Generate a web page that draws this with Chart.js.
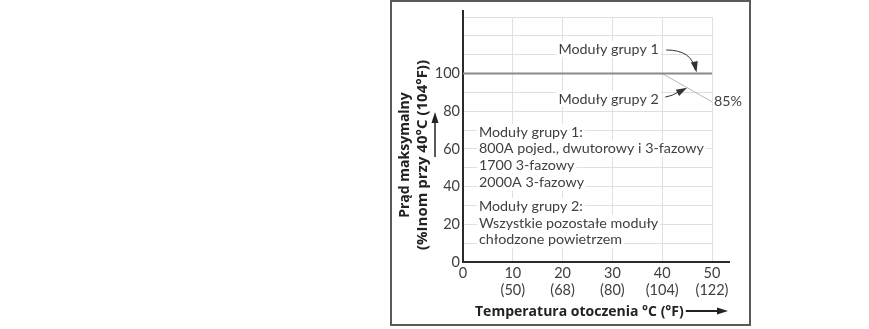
<!DOCTYPE html>
<html>
<head>
<meta charset="utf-8">
<script src="https://cdn.jsdelivr.net/npm/chart.js@4.4.1/dist/chart.umd.min.js"></script>
<style>
  html, body { margin: 0; padding: 0; background: #fff; }
  #wrap { width: 869px; height: 329px; }
</style>
</head>
<body>
<div id="wrap"><canvas id="derating"></canvas></div>
<script>
// temperature ticks (deg C) and their Fahrenheit labels
const tempC = [0, 10, 20, 30, 40, 50];
const tempF = ['', '(50)', '(68)', '(80)', '(104)', '(122)'];
const currentTicks = [0, 20, 40, 60, 80, 100];

// group 1: flat 100% up to 50 C
const group1Temp = [0, 50];
const group1Current = [100, 100];
// group 2: 100% up to 40 C, then down to 85% at 50 C
const group2Temp = [40, 50];
const group2Current = [100, 85];

const noteLines = [
  'Moduły grupy 1:',
  '800A pojed., dwutorowy i 3-fazowy',
  '1700 3-fazowy',
  '2000A 3-fazowy',
  'Moduły grupy 2:',
  'Wszystkie pozostałe moduły',
  'chłodzone powietrzem'
];

const FONT = 'Lato, "Open Sans", sans-serif';
const TITLE_FONT = 'bold 14px "Open Sans", Lato, sans-serif';
const TXT = '#404040';

var toPoints = function(xs, ys) {
  return xs.map(function(x, i) { return { x: x, y: ys[i] }; });
};

var arrowHead = function(ctx, fromX, fromY, tipX, tipY) {
  var a = Math.atan2(tipY - fromY, tipX - fromX);
  var len = 11, half = 3.5;
  ctx.beginPath();
  ctx.moveTo(tipX, tipY);
  ctx.lineTo(tipX - len * Math.cos(a) + half * Math.sin(a), tipY - len * Math.sin(a) - half * Math.cos(a));
  ctx.lineTo(tipX - len * Math.cos(a) - half * Math.sin(a), tipY - len * Math.sin(a) + half * Math.cos(a));
  ctx.closePath();
  ctx.fill();
};

var boxedText = function(ctx, text, x, y, align) {
  var w = ctx.measureText(text).width;
  var left = align === 'right' ? x - w : x;
  ctx.fillStyle = '#fff';
  ctx.fillRect(left - 2, y - 8, w + 4, 16);
  ctx.fillStyle = TXT;
  ctx.textAlign = align;
  ctx.fillText(text, x, y);
};

const decorations = {
  id: 'decorations',
  afterDraw: function(chart) {
    var ctx = chart.ctx;
    var ca = chart.chartArea;
    var xs = chart.scales.x, ys = chart.scales.y;
    var X = function(v) { return xs.getPixelForValue(v); };
    var Y = function(v) { return ys.getPixelForValue(v); };
    ctx.save();

    // axis extensions
    ctx.strokeStyle = '#2a2a2a';
    ctx.lineWidth = 2;
    ctx.beginPath();
    ctx.moveTo(ca.left, ca.top + 1);
    ctx.lineTo(ca.left, ca.top - 7);
    ctx.moveTo(ca.right - 1, ca.bottom);
    ctx.lineTo(ca.right + 18, ca.bottom);
    ctx.stroke();

    ctx.font = '14.3px ' + FONT;
    ctx.textBaseline = 'middle';

    // text block
    for (var i = 0; i < noteLines.length; i++) {
      var ly = Y(69) + i * 16.8 + (i >= 4 ? 7 : 0);
      boxedText(ctx, noteLines[i], X(3.2), ly, 'left');
    }

    // series labels
    boxedText(ctx, 'Moduły grupy 1', X(39.3), Y(113), 'right');
    boxedText(ctx, 'Moduły grupy 2', X(39.3), Y(86.5), 'right');
    ctx.fillStyle = TXT;
    ctx.textAlign = 'left';
    ctx.fillText('85%', X(50.4), Y(85));

    // pointers
    ctx.strokeStyle = '#333';
    ctx.fillStyle = '#333';
    ctx.lineWidth = 1;
    ctx.beginPath();
    ctx.moveTo(X(40.8), Y(112.5));
    ctx.quadraticCurveTo(X(46), Y(112.5), X(46.6), Y(102));
    ctx.stroke();
    arrowHead(ctx, X(46.3), Y(108), X(46.9), Y(100.6));
    ctx.beginPath();
    ctx.moveTo(X(40.6), Y(87.5));
    ctx.quadraticCurveTo(X(42), Y(88), X(43.5), Y(90.5));
    ctx.stroke();
    arrowHead(ctx, X(42), Y(88.2), X(45), Y(92.5));

    // axis titles
    ctx.fillStyle = '#222';
    ctx.strokeStyle = '#222';
    ctx.font = TITLE_FONT;
    ctx.textAlign = 'left';
    var xTitle = 'Temperatura otoczenia °C (°F)';
    ctx.fillText(xTitle, 475, 312);
    var endX = 475 + ctx.measureText(xTitle).width + 2;
    ctx.beginPath();
    ctx.lineWidth = 2;
    ctx.moveTo(endX, 311);
    ctx.lineTo(718, 311);
    ctx.stroke();
    arrowHead(ctx, 700, 311, 728, 311);

    ctx.save();
    ctx.translate(405, 155);
    ctx.rotate(-Math.PI / 2);
    ctx.textAlign = 'center';
    ctx.fillText('Prąd maksymalny', 0, 0);
    ctx.font = 'bold 15px "Open Sans", Lato, sans-serif';
    ctx.fillText('(%Inom przy 40°C (104°F))', 0, 18);
    ctx.restore();
    ctx.beginPath();
    ctx.lineWidth = 1.5;
    ctx.moveTo(435, 157);
    ctx.lineTo(435, 120);
    ctx.stroke();
    arrowHead(ctx, 435, 140, 435, 112);

    // frame
    ctx.strokeStyle = '#5a5a5a';
    ctx.lineWidth = 2;
    ctx.strokeRect(391, 1, 359, 324);
    ctx.restore();
  }
};

new Chart(document.getElementById('derating'), {
  type: 'line',
  data: {
    datasets: [{
      label: 'Moduły grupy 1',
      data: toPoints(group1Temp, group1Current),
      borderColor: '#8a8a8a',
      borderWidth: 2,
      pointRadius: 0
    },
    {
      label: 'Moduły grupy 2',
      data: toPoints(group2Temp, group2Current),
      borderColor: '#b8b8b8',
      borderWidth: 1,
      pointRadius: 0
    }]
  },
  options: {
    responsive: true,
    maintainAspectRatio: false,
    animation: false,
    layout: { padding: { left: 0, top: 17, right: 157, bottom: 0 } },
    plugins: {
      legend: { display: false },
      tooltip: { enabled: false }
    },
    scales: {
      x: {
        type: 'linear',
        min: 0,
        max: 50,
        afterFit: function(scale) { scale.height = 67; },
        afterBuildTicks: function(scale) {
          scale.ticks = tempC.map(function(v) { return { value: v }; });
        },
        border: { color: '#2a2a2a', width: 2 },
        grid: { color: '#e0e0e0', drawTicks: false },
        ticks: {
          padding: 2,
          maxRotation: 0,
          autoSkip: false,
          color: TXT,
          font: { family: FONT, size: 14.5, lineHeight: 1.22 },
          callback: function(value) {
            var i = tempC.indexOf(value);
            return tempF[i] ? [String(value), tempF[i]] : String(value);
          }
        }
      },
      y: {
        min: 0,
        max: 130,
        afterFit: function(scale) { scale.width = 463; },
        border: { color: '#2a2a2a', width: 2 },
        grid: { color: '#e0e0e0', drawTicks: false },
        ticks: {
          stepSize: 10,
          padding: 3,
          autoSkip: false,
          color: TXT,
          font: { family: FONT, size: 14.5 },
          callback: function(value) {
            return currentTicks.includes(value) ? String(value) : '';
          }
        }
      }
    }
  },
  plugins: [decorations]
});
</script>
</body>
</html>
